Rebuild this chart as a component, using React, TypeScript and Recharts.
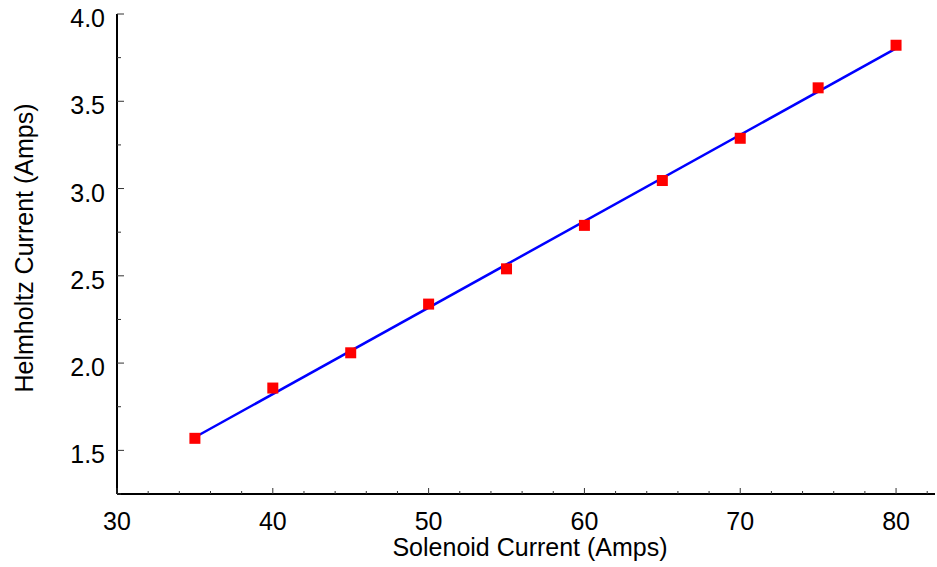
import React from "react";
import { ScatterChart, Scatter, XAxis, YAxis } from "recharts";

const solenoidCurrent = [35, 40, 45, 50, 55, 60, 65, 70, 75, 80];
const helmholtzCurrent = [1.569, 1.857, 2.059, 2.338, 2.54, 2.789, 3.046, 3.288, 3.577, 3.821];
const fitX = [35, 80];
const fitY = [1.575, 3.803];
const xTicks = [30, 32, 34, 36, 38, 40, 42, 44, 46, 48, 50, 52, 54, 56, 58, 60, 62, 64, 66, 68, 70, 72, 74, 76, 78, 80, 82];
const xMajor = [30, 40, 50, 60, 70, 80];
const yTicks = [1.25, 1.5, 1.75, 2.0, 2.25, 2.5, 2.75, 3.0, 3.25, 3.5, 3.75, 4.0];
const yMajor = [1.5, 2.0, 2.5, 3.0, 3.5, 4.0];

const points = solenoidCurrent.map((x, i) => ({ x, y: helmholtzCurrent[i] }));
const fitLine = fitX.map((x, i) => ({ x, y: fitY[i] }));

const FONT = "'Liberation Sans', Arial, Helvetica, sans-serif";

const isMajor = (v: number, list: number[]) => list.some((m) => Math.abs(m - v) < 1e-6);

const XTick = (props: any) => {
  const { x, y, payload } = props;
  const major = isMajor(payload.value, xMajor);
  return (
    <g>
      <line x1={x} x2={x} y1={y} y2={y - (major ? 6 : 3)} stroke="#333" strokeWidth={1} />
      {major && (
        <text x={x} y={y + 36} textAnchor="middle" fontSize={25} fontFamily={FONT} fill="#000">
          {payload.value}
        </text>
      )}
    </g>
  );
};

const YTick = (props: any) => {
  const { x, y, payload } = props;
  const major = isMajor(payload.value, yMajor);
  return (
    <g>
      <line x1={x} x2={x + (major ? 7 : 4)} y1={y} y2={y} stroke="#333" strokeWidth={1} />
      {major && (
        <text x={x - 12} y={y + 13} textAnchor="end" fontSize={25} fontFamily={FONT} fill="#000">
          {payload.value.toFixed(1)}
        </text>
      )}
    </g>
  );
};

const Square = (props: any) => {
  const { cx, cy } = props;
  if (cx == null || cy == null) return <g />;
  return <rect x={cx - 5.5} y={cy - 5.5} width={11} height={11} fill="#ff0000" />;
};

const NoShape = () => <g />;

export default function App() {
  return (
    <div style={{ position: "absolute", left: 0, top: 0, background: "#fff" }}>
      <ScatterChart width={937} height={567} margin={{ top: 14, right: 2, left: 0, bottom: 0 }}>
        <XAxis
          dataKey="x"
          type="number"
          domain={[30, 82.5]}
          ticks={xTicks}
          allowDataOverflow
          height={73}
          tickSize={0}
          tickMargin={0}
          tickLine={false}
          axisLine={{ stroke: "#000", strokeWidth: 2 }}
          tick={XTick}
          interval={0}
          label={(p: any) => {
            const vb = p.viewBox || {};
            return (
              <text
                x={vb.x + vb.width / 2 + 4}
                y={556}
                textAnchor="middle"
                fontSize={25}
                fontFamily={FONT}
                fill="#000"
              >
                Solenoid Current (Amps)
              </text>
            );
          }}
        />
        <YAxis
          dataKey="y"
          type="number"
          domain={[1.25, 4.0]}
          ticks={yTicks}
          allowDataOverflow
          width={117}
          tickSize={0}
          tickMargin={0}
          tickLine={false}
          axisLine={{ stroke: "#000", strokeWidth: 2 }}
          tick={YTick}
          interval={0}
          label={(p: any) => {
            const vb = p.viewBox || {};
            const cy = vb.y + vb.height / 2 - 6;
            return (
              <text
                x={33}
                y={cy}
                transform={`rotate(-90, 33, ${cy})`}
                textAnchor="middle"
                fontSize={25}
                fontFamily={FONT}
                fill="#000"
              >
                Helmholtz Current (Amps)
              </text>
            );
          }}
        />
        <Scatter
          data={fitLine}
          line={{ stroke: "#0000ff", strokeWidth: 2.5 }}
          lineType="joint"
          shape={NoShape}
          isAnimationActive={false}
        />
        <Scatter data={points} shape={Square} isAnimationActive={false} />
      </ScatterChart>
    </div>
  );
}
